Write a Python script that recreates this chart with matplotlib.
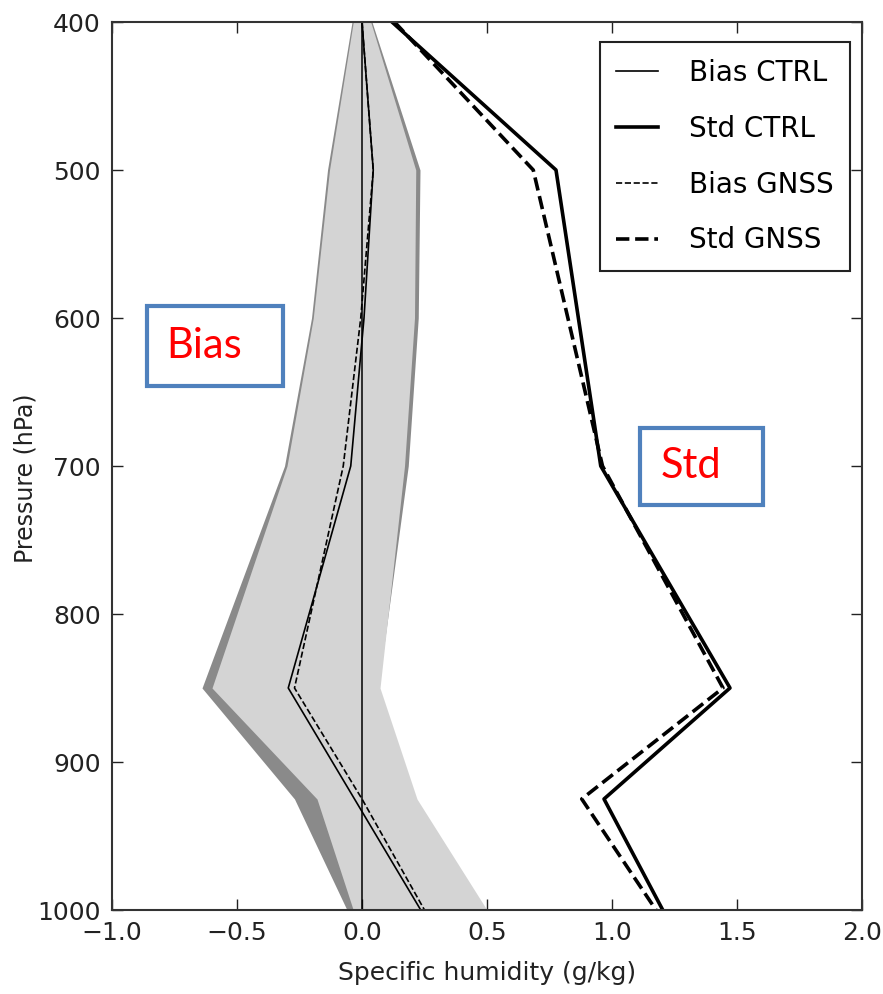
import numpy as np
import matplotlib
matplotlib.use('Agg')
import matplotlib.pyplot as plt
from matplotlib.patches import Rectangle

# pressure levels (hPa)
pres = [400, 500, 600, 700, 850, 925, 1000]
std_pres = [400, 500, 700, 850, 925, 1000]

# bias and std of specific humidity (g/kg)
bias_ctrl = [0.0, 0.045, 0.008, -0.045, -0.295, -0.03, 0.235]
bias_gnss = [0.0, 0.045, -0.005, -0.075, -0.27, 0.0, 0.25]
std_ctrl = [0.12, 0.776, 0.955, 1.472, 0.968, 1.203]
std_gnss = [0.13, 0.685, 0.962, 1.444, 0.879, 1.176]

# shaded spread envelopes
ctrl_lo = [-0.04, -0.138, -0.202, -0.31, -0.64, -0.27, -0.06]
ctrl_hi = [0.04, 0.232, 0.225, 0.185, 0.065, 0.20, 0.45]
gnss_lo = [-0.035, -0.13, -0.195, -0.30, -0.60, -0.18, -0.035]
gnss_hi = [0.035, 0.215, 0.21, 0.17, 0.072, 0.22, 0.50]

W, H = 883, 994
fig = plt.figure(figsize=(W / 100, H / 100), dpi=100)
ax = fig.add_axes([112 / W, 1 - 910 / H, 750 / W, 888 / H])

ax.fill_betweenx(pres, ctrl_lo, ctrl_hi, color='#8a8a8a', lw=0)
ax.fill_betweenx(pres, gnss_lo, gnss_hi, color='#d4d4d4', lw=0)
ax.axvline(0, color='k', lw=1.1)

ax.plot(bias_ctrl, pres, 'k-', lw=1.2, label='Bias CTRL')
ax.plot(std_ctrl, std_pres, 'k-', lw=2.6, label='Std CTRL')
ax.plot(bias_gnss, pres, 'k--', lw=1.2, label='Bias GNSS')
ax.plot(std_gnss, std_pres, 'k--', lw=2.6, label='Std GNSS')

ax.set_xlim(-1.0, 2.0)
ax.set_ylim(1000, 400)
ax.set_xticks(np.arange(-1.0, 2.01, 0.5))
ax.set_yticks(range(400, 1001, 100))
ax.tick_params(direction='in', top=True, right=True, length=8, width=1,
               labelsize=18, pad=8, colors='#222222')
for s in ax.spines.values():
    s.set_linewidth(1.5)
    s.set_color('#333333')
ax.set_xlabel('Specific humidity (g/kg)', fontsize=18, color='#222222')
ax.xaxis.set_label_coords(0.5, -0.057)
ax.set_ylabel('Pressure (hPa)', fontsize=17, color='#222222')
ax.yaxis.set_label_coords(-0.100, 0.486)

leg = ax.legend(loc='upper right', fontsize=20, fancybox=False, framealpha=1,
                edgecolor='#222222', handlelength=1.5, borderpad=0.6,
                labelspacing=1.0, handletextpad=1.1, borderaxespad=0,
                bbox_to_anchor=(0.984, 0.977))
leg.get_frame().set_linewidth(1.5)

# annotation boxes
def label_box(x0, y0, x1, y1, text, tx):
    fig.patches.append(Rectangle((x0 / W, 1 - y1 / H), (x1 - x0) / W, (y1 - y0) / H,
                                 transform=fig.transFigure, fill=True, fc='white',
                                 ec='#4f81bd', lw=3, zorder=5))
    fig.text(tx / W, 1 - (y0 + y1) / 2 / H, text, color='red', fontsize=30,
             family='Lato', ha='left', va='center', zorder=6)

label_box(147, 306, 283, 386, 'Bias', 166)
label_box(640, 428, 763, 505, 'Std', 661)

fig.savefig('out.png', dpi=100)
